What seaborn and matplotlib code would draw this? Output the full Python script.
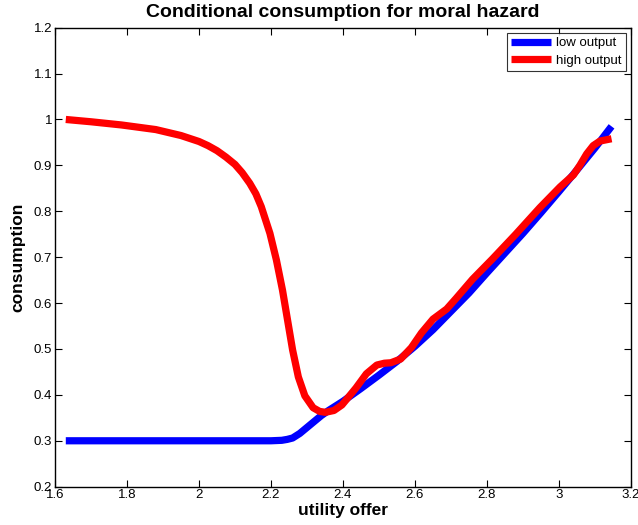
import numpy as np
import pandas as pd
import seaborn as sns
import matplotlib
matplotlib.use('Agg')
import matplotlib.pyplot as plt

# values
low_x = [1.63, 1.80, 2.00, 2.20, 2.23, 2.245, 2.26, 2.28, 2.30, 2.32, 2.34, 2.36,
         2.38, 2.40, 2.45, 2.50, 2.55, 2.60, 2.65, 2.70, 2.75, 2.80, 2.85, 2.90,
         2.95, 3.00, 3.05, 3.10, 3.146]
low_y = [0.300, 0.300, 0.300, 0.300, 0.301, 0.303, 0.306, 0.316, 0.329, 0.342, 0.355, 0.366,
         0.376, 0.386, 0.414, 0.443, 0.473, 0.506, 0.542, 0.582, 0.622, 0.666, 0.709, 0.752,
         0.797, 0.843, 0.890, 0.938, 0.985]

high_x = [1.63, 1.70, 1.785, 1.88, 1.95, 2.00, 2.025, 2.05, 2.075, 2.10, 2.12, 2.141,
          2.158, 2.173, 2.197, 2.215, 2.232, 2.246, 2.26, 2.276, 2.294, 2.317, 2.335,
          2.351, 2.375, 2.397, 2.415, 2.436, 2.465, 2.494, 2.515, 2.533, 2.56, 2.59,
          2.618, 2.65, 2.688, 2.714, 2.76, 2.815, 2.88, 2.947, 3.003, 3.04, 3.058,
          3.077, 3.095, 3.114, 3.146]
high_y = [1.000, 0.995, 0.988, 0.978, 0.965, 0.952, 0.943, 0.932, 0.918, 0.902, 0.884, 0.861,
          0.838, 0.810, 0.752, 0.694, 0.628, 0.563, 0.498, 0.439, 0.398, 0.372, 0.364,
          0.362, 0.366, 0.378, 0.395, 0.415, 0.446, 0.465, 0.469, 0.470, 0.478, 0.503,
          0.535, 0.565, 0.587, 0.610, 0.652, 0.696, 0.750, 0.808, 0.853, 0.879, 0.900,
          0.925, 0.943, 0.953, 0.958]

x_ticks = [1.6, 1.8, 2.0, 2.2, 2.4, 2.6, 2.8, 3.0, 3.2]
x_tick_labels = ['1.6', '1.8', '2', '2.2', '2.4', '2.6', '2.8', '3', '3.2']
y_ticks = [0.2, 0.3, 0.4, 0.5, 0.6, 0.7, 0.8, 0.9, 1.0, 1.1, 1.2]
y_tick_labels = ['0.2', '0.3', '0.4', '0.5', '0.6', '0.7', '0.8', '0.9', '1', '1.1', '1.2']

low = pd.DataFrame({'utility': low_x, 'consumption': low_y})
high = pd.DataFrame({'utility': high_x, 'consumption': high_y})

sns.set_style('ticks')
plt.rcParams['font.family'] = ['Liberation Sans', 'DejaVu Sans']
plt.rcParams['text.color'] = 'black'
plt.rcParams['axes.labelcolor'] = 'black'

fig = plt.figure(figsize=(6.38, 5.25), dpi=100)
ax = fig.add_axes([0.0862, 0.0730, 0.9028, 0.8743])

sns.lineplot(data=low, x='utility', y='consumption', color='#0000ff', linewidth=5.2,
             label='low output', ax=ax, solid_capstyle='butt', solid_joinstyle='round')
sns.lineplot(data=high, x='utility', y='consumption', color='#ff0000', linewidth=5.2,
             label='high output', ax=ax, solid_capstyle='butt', solid_joinstyle='round')

ax.set_xlim(1.6, 3.2)
ax.set_ylim(0.2, 1.2)
ax.set_xticks(x_ticks)
ax.set_xticklabels(x_tick_labels)
ax.set_yticks(y_ticks)
ax.set_yticklabels(y_tick_labels)
ax.tick_params(direction='in', length=5, width=0.8, labelsize=9.5, pad=2,
               top=True, right=True, colors='black')
for s in ax.spines.values():
    s.set_visible(True)
    s.set_linewidth(1.0)
    s.set_color('black')

ax.set_xlabel('utility offer', fontsize=12.5, fontweight='bold', labelpad=1)
ax.set_ylabel('consumption', fontsize=12.5, fontweight='bold', labelpad=6)
ax.set_title('Conditional consumption for moral hazard', fontsize=14,
             fontweight='bold', pad=7.5)

leg = ax.legend(loc='upper right', fontsize=9.5, handlelength=3.0, frameon=True,
                fancybox=False, edgecolor='black', borderpad=0.3, labelspacing=0.4,
                handletextpad=0.4, borderaxespad=0.4)
leg.get_frame().set_linewidth(0.8)
for line in leg.get_lines():
    line.set_solid_capstyle('butt')

fig.savefig('out.png', dpi=100)
